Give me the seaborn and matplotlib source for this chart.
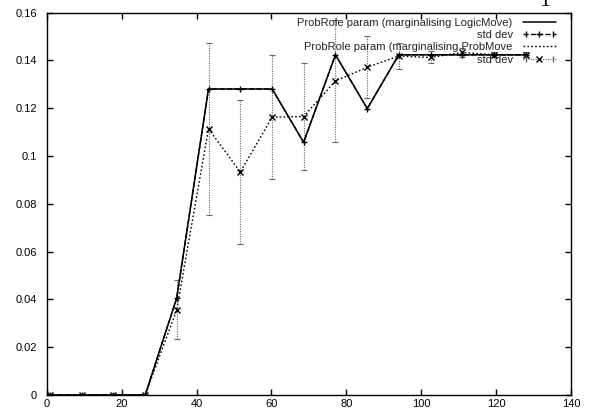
import matplotlib
matplotlib.use("Agg")
import numpy as np
import pandas as pd
import seaborn as sns
import matplotlib.pyplot as plt
from matplotlib.lines import Line2D
from matplotlib.legend_handler import HandlerLine2D, HandlerTuple

# Sample positions along the x axis
steps = [0.9, 9.4, 17.8, 26.3, 34.7, 43.2, 51.7, 60.2, 68.6, 77.1,
         85.6, 94.0, 102.5, 111.0, 119.4, 127.9]

# ProbRole parameter, marginalising LogicMove
logic_mean = [0.0, 0.0, 0.0, 0.0, 0.0405, 0.128, 0.128, 0.128, 0.1057, 0.1423,
              0.1198, 0.1423, 0.1423, 0.1423, 0.1423, 0.1423]
logic_sd = [0.0, 0.0, 0.0, 0.0, 0.0, 0.0, 0.0, 0.0, 0.0, 0.0,
            0.0, 0.0, 0.0, 0.0, 0.0, 0.0]

# ProbRole parameter, marginalising ProbMove
prob_mean = [0.0, 0.0, 0.0, 0.0, 0.0356, 0.1113, 0.0933, 0.1162, 0.1165, 0.1314,
             0.1371, 0.1418, 0.1412, 0.1433, 0.1423, 0.1423]
prob_sd = [0.0, 0.0, 0.0, 0.0, 0.0123, 0.036, 0.0303, 0.026, 0.0225, 0.0255,
           0.013, 0.0055, 0.0025, 0.002, 0.001, 0.001]

x_ticks = [0, 20, 40, 60, 80, 100, 120, 140]
y_ticks = [0, 0.02, 0.04, 0.06, 0.08, 0.1, 0.12, 0.14, 0.16]
y_tick_labels = ["0", "0.02", "0.04", "0.06", "0.08", "0.1", "0.12", "0.14", "0.16"]

label_logic = "ProbRole param (marginalising LogicMove)"
label_prob = "ProbRole param (marginalising ProbMove"
label_sd = "std dev"

sns.set_style("ticks")
plt.rcParams['font.family'] = ['Liberation Sans', 'DejaVu Sans']
plt.rcParams['font.size'] = 8

fig = plt.figure(figsize=(5.9, 4.13), dpi=100)
ax = fig.add_axes([0.0792, 0.0436, 0.8886, 0.9261])

df = pd.DataFrame({"step": steps, "logic": logic_mean, "prob": prob_mean})

# std dev of the LogicMove curve: dashed line with '+' points
ax.errorbar(steps, logic_mean, yerr=logic_sd, fmt='--', color='black', lw=1.0,
            marker='+', ms=5, mew=1.0, capsize=0, zorder=3)

# mean curves
sns.lineplot(data=df, x="step", y="logic", ax=ax, color="black", lw=1.1,
             legend=False, zorder=4)
sns.lineplot(data=df, x="step", y="prob", ax=ax, color="black", lw=1.0,
             linestyle=(0, (1.2, 1.6)), legend=False, zorder=4)

# std dev of the ProbMove curve: dotted grey bars with 'x' points
eb = ax.errorbar(steps, prob_mean, yerr=prob_sd, fmt='none', ecolor='0.4',
                 elinewidth=0.8, capsize=2, capthick=0.8, zorder=2)
for coll in eb[2]:
    coll.set_linestyle((0, (1, 1.2)))
ax.plot(steps, prob_mean, linestyle='none', marker='x', ms=4.5, mew=1.0,
        color='black', zorder=5)

ax.set_xlim(0, 140)
ax.set_ylim(0, 0.16)
ax.set_xticks(x_ticks)
ax.set_xticklabels([str(t) for t in x_ticks])
ax.set_yticks(y_ticks)
ax.set_yticklabels(y_tick_labels)
ax.set_xlabel("")
ax.set_ylabel("")
ax.tick_params(direction='in', top=True, right=True, length=4, width=1,
               labelsize=8, colors='black')
ax.tick_params(axis='y', pad=7)
ax.tick_params(axis='x', pad=3)
for sp in ax.spines.values():
    sp.set_visible(True)
    sp.set_linewidth(1.0)
    sp.set_color('black')

# legend entries in key style: text first, sample on the right
h_logic = Line2D([], [], color='black', lw=1.1)
h_sd1 = Line2D([], [], color='black', lw=1.0, linestyle='--', marker='+', ms=5)
h_sd1_caps = Line2D([], [], color='black', lw=0, marker='|', ms=4)
h_prob = Line2D([], [], color='black', lw=1.0, linestyle=(0, (1.2, 1.6)))
h_sd2 = Line2D([], [], color='0.4', lw=0.8, linestyle=(0, (1, 1.2)),
               marker='x', ms=4.5, mec='black')
h_sd2_caps = Line2D([], [], color='0.4', lw=0, marker='|', ms=4)

leg = ax.legend([h_logic, (h_sd1, h_sd1_caps), h_prob, (h_sd2, h_sd2_caps)],
                [label_logic, label_sd, label_prob, label_sd],
                loc='upper right', bbox_to_anchor=(0.9714, 0.986),
                markerfirst=False, frameon=False, fontsize=8,
                handlelength=3.0, handletextpad=0.9, labelspacing=0.2,
                borderpad=0, borderaxespad=0, numpoints=1,
                handler_map={h_sd1_caps: HandlerLine2D(numpoints=2),
                             h_sd2_caps: HandlerLine2D(numpoints=2),
                             tuple: HandlerTuple(ndivide=1)})

# clipped heading glyph at the top edge
fig.text(545 / 590, 1 - 6.5 / 413, "1", family=['Liberation Serif', 'DejaVu Serif'],
         fontsize=16, ha='center', va='baseline', color='black')

fig.savefig("out.png", dpi=100)
